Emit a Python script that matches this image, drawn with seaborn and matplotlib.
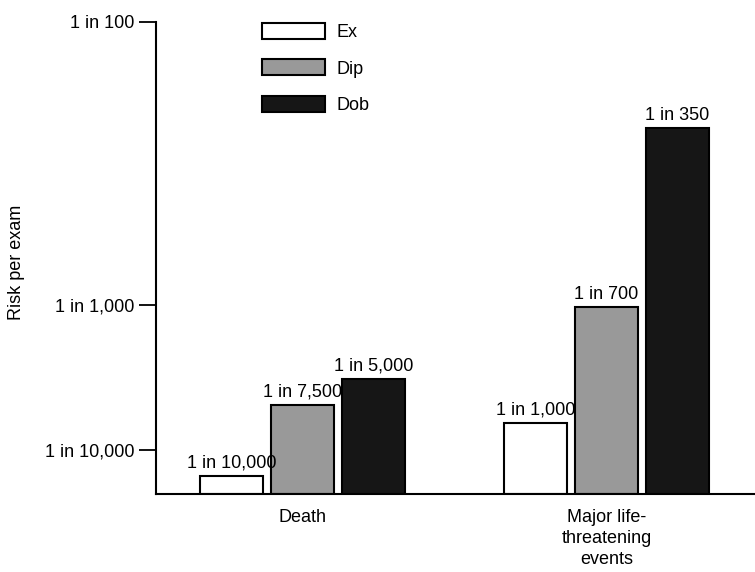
import pandas as pd
import matplotlib.pyplot as plt
import seaborn as sns

# Risk per exam, stress echo agents.
# The source figure is schematic: bar heights are drawn heights above the
# baseline (same units as tick_pos), not to scale with the "1 in N" labels.
outcomes = ['Death', 'Major life-\nthreatening\nevents']
agents = ['Ex', 'Dip', 'Dob']
death_height = [1.8, 8.9, 11.5]
major_height = [7.1, 18.7, 36.6]
death_labels = ['1 in 10,000', '1 in 7,500', '1 in 5,000']
major_labels = ['1 in 1,000', '1 in 700', '1 in 350']
tick_pos = [4.4, 18.9, 47.2]
tick_labels = ['1 in 10,000', '1 in 1,000', '1 in 100']
colors = ['white', '#999999', '#161616']

rows = []
for a, d, m in zip(agents, death_height, major_height):
    rows.append({'outcome': outcomes[0], 'agent': a, 'height': d})
    rows.append({'outcome': outcomes[1], 'agent': a, 'height': m})
df = pd.DataFrame(rows)

sns.set_style('ticks')
plt.rcParams['font.family'] = ['Liberation Sans', 'DejaVu Sans']
plt.rcParams['font.size'] = 13
plt.rcParams['text.color'] = 'black'
plt.rcParams['axes.labelcolor'] = 'black'
plt.rcParams['axes.edgecolor'] = 'black'
plt.rcParams['xtick.color'] = 'black'
plt.rcParams['ytick.color'] = 'black'

fig = plt.figure(figsize=(7.55, 5.72), dpi=100)
ax = fig.add_axes([156 / 755, 78 / 572, 599 / 755, 472 / 572])

sns.barplot(data=df, x='outcome', y='height', hue='agent',
            order=outcomes, hue_order=agents, palette=colors,
            width=0.702, gap=0.113, edgecolor='black', linewidth=1.5,
            errorbar=None, ax=ax)

# value labels above the bars
for i, cont in enumerate(ax.containers):
    ax.bar_label(cont, labels=[death_labels[i], major_labels[i]],
                 padding=3, fontsize=13, color='black')

ax.set_xlim(-0.484, 1.489)
ax.set_ylim(0, tick_pos[-1])
ax.set_yticks(tick_pos)
ax.set_yticklabels(tick_labels)
ax.tick_params(axis='y', length=12, width=1.3, pad=3.5, labelsize=13)
ax.tick_params(axis='x', length=0, pad=11, labelsize=13)
for t in ax.get_xticklabels():
    t.set_linespacing(1.3)
ax.set_xlabel('')
ax.set_ylabel('Risk per exam', fontsize=13)
ax.yaxis.set_label_coords(-0.219, 0.49)

sns.despine(ax=ax)
ax.spines['left'].set_linewidth(1.5)
ax.spines['bottom'].set_linewidth(1.5)

handles, labels = ax.get_legend_handles_labels()
ax.legend(handles, labels, loc='upper left',
          bbox_to_anchor=(262 / 755, 1 - 23 / 572),
          bbox_transform=fig.transFigure, frameon=False,
          handlelength=3.5, handleheight=1.0, labelspacing=1.0,
          handletextpad=0.6, borderpad=0, borderaxespad=0, fontsize=13)

fig.savefig('out.png', dpi=100)
